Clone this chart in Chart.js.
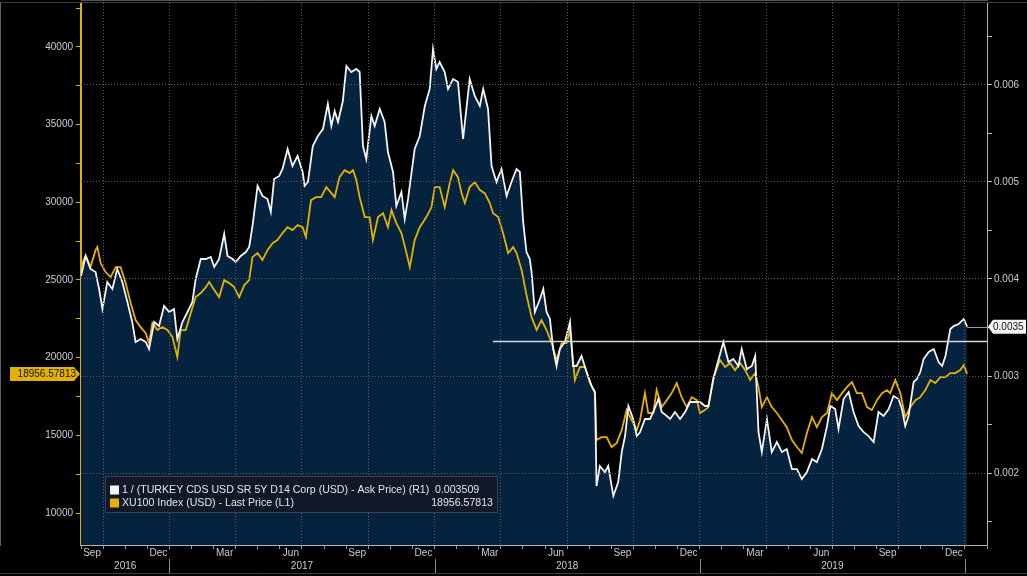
<!DOCTYPE html>
<html>
<head>
<meta charset="utf-8">
<script src="https://cdn.jsdelivr.net/npm/chart.js@4.4.1/dist/chart.umd.min.js"></script>
<style>
  html, body { margin: 0; padding: 0; background: #000; }
  .chart-size { position: relative; width: 1027px; height: 576px; }
</style>
</head>
<body>
<div class="chart-size"><canvas id="chart"></canvas></div>
<script>
// x values are months counted from 1 Sep 2016
const cdsMonths = [
  0.00, 0.21, 0.43, 0.66, 0.82, 0.97, 1.19, 1.42, 1.64, 1.87,
  2.10, 2.32, 2.47, 2.70, 2.93, 3.08, 3.31, 3.53, 3.76, 3.99,
  4.21, 4.36, 4.59, 4.82, 5.04, 5.19, 5.42, 5.65, 5.87, 6.03,
  6.25, 6.48, 6.63, 6.86, 7.00, 7.23, 7.46, 7.61, 7.76, 7.99,
  8.21, 8.44, 8.59, 8.74, 8.97, 9.12, 9.35, 9.57, 9.80, 10.03,
  10.12, 10.27, 10.49, 10.72, 10.95, 11.17, 11.33, 11.48, 11.63, 11.85,
  12.01, 12.23, 12.46, 12.61, 12.76, 12.91, 13.14, 13.29, 13.52, 13.74,
  13.89, 14.12, 14.27, 14.50, 14.65, 14.80, 15.10, 15.33, 15.56, 15.78,
  15.93, 16.08, 16.23, 16.46, 16.61, 16.84, 17.06, 17.29, 17.44, 17.59,
  17.82, 18.05, 18.20, 18.42, 18.58, 18.80, 19.03, 19.26, 19.48, 19.71,
  19.86, 20.01, 20.16, 20.31, 20.39, 20.54, 20.77, 20.92, 21.07, 21.22,
  21.37, 21.52, 21.67, 21.90, 22.13, 22.27, 22.43, 22.65, 22.88, 23.11,
  23.26, 23.33, 23.48, 23.71, 23.86, 24.09, 24.31, 24.47, 24.62, 24.77,
  24.99, 25.15, 25.30, 25.52, 25.75, 25.90, 26.13, 26.28, 26.51, 26.66,
  26.88, 27.11, 27.34, 27.56, 27.79, 28.01, 28.24, 28.39, 28.62, 28.77,
  28.92, 29.07, 29.30, 29.52, 29.75, 29.90, 30.13, 30.36, 30.51, 30.66,
  30.81, 31.04, 31.26, 31.49, 31.72, 31.94, 32.17, 32.40, 32.62, 32.85,
  33.08, 33.30, 33.53, 33.76, 33.91, 34.13, 34.28, 34.51, 34.74, 34.96,
  35.19, 35.41, 35.64, 35.87, 36.09, 36.32, 36.55, 36.77, 37.00, 37.15,
  37.30, 37.45, 37.68, 37.83, 37.98, 38.13, 38.36, 38.59, 38.81, 38.97,
  39.12, 39.34, 39.49, 39.72, 39.95, 40.10
];
const cdsInverse = [
  0.004031, 0.004237, 0.004103, 0.004072, 0.003897, 0.003691, 0.003969, 0.003897, 0.004103, 0.003969,
  0.003763, 0.003557, 0.003351, 0.003381, 0.003351, 0.003278, 0.003557, 0.003515, 0.003722, 0.003660,
  0.003691, 0.003381, 0.003557, 0.003660, 0.003763, 0.004000, 0.004206, 0.004206, 0.004227, 0.004124,
  0.004206, 0.004464, 0.004237, 0.004206, 0.004175, 0.004237, 0.004278, 0.004330, 0.004546, 0.004959,
  0.004856, 0.004825, 0.004691, 0.005031, 0.005062, 0.005134, 0.005340, 0.005165, 0.005268, 0.005103,
  0.004959, 0.005000, 0.005371, 0.005474, 0.005546, 0.005804, 0.005577, 0.005732, 0.005619, 0.005835,
  0.006196, 0.006134, 0.006165, 0.006134, 0.005371, 0.005237, 0.005680, 0.005577, 0.005753, 0.005619,
  0.005309, 0.005103, 0.004753, 0.004897, 0.004619, 0.004825, 0.005340, 0.005474, 0.005784, 0.005959,
  0.006371, 0.006165, 0.006237, 0.006134, 0.005959, 0.006062, 0.006031, 0.005443, 0.005753, 0.006062,
  0.005887, 0.005784, 0.005959, 0.005753, 0.005165, 0.005000, 0.005134, 0.004856, 0.005000, 0.005134,
  0.005103, 0.004588, 0.004278, 0.004206, 0.004072, 0.003660, 0.003794, 0.003897, 0.003660, 0.003588,
  0.003278, 0.003103, 0.003278, 0.003351, 0.003557, 0.003103, 0.003103, 0.003206, 0.003041, 0.002897,
  0.002835, 0.001866, 0.002072, 0.002010, 0.002072, 0.001763, 0.001907, 0.002216, 0.002381, 0.002691,
  0.002557, 0.002381, 0.002423, 0.002557, 0.002557, 0.002629, 0.002763, 0.002629, 0.002588, 0.002557,
  0.002629, 0.002557, 0.002629, 0.002732, 0.002732, 0.002732, 0.002691, 0.002691, 0.002969, 0.003103,
  0.003227, 0.003351, 0.003144, 0.003175, 0.003103, 0.003278, 0.003072, 0.003103, 0.003206, 0.002423,
  0.002216, 0.002557, 0.002216, 0.002320, 0.002216, 0.002247, 0.002041, 0.002041, 0.001938, 0.002010,
  0.002144, 0.002113, 0.002247, 0.002485, 0.002691, 0.002660, 0.002454, 0.002763, 0.002835, 0.002629,
  0.002485, 0.002423, 0.002381, 0.002320, 0.002629, 0.002588, 0.002660, 0.002794, 0.002763, 0.002660,
  0.002485, 0.002588, 0.002938, 0.002969, 0.003041, 0.003175, 0.003247, 0.003278, 0.003144, 0.003103,
  0.003206, 0.003485, 0.003515, 0.003536, 0.003588, 0.003509
];
const xuMonths = [
  0.00, 0.21, 0.43, 0.66, 0.74, 0.89, 1.11, 1.34, 1.57, 1.79,
  2.02, 2.25, 2.47, 2.70, 2.93, 3.08, 3.23, 3.46, 3.68, 3.91,
  4.14, 4.36, 4.51, 4.74, 4.97, 5.19, 5.42, 5.65, 5.80, 6.03,
  6.25, 6.48, 6.71, 6.93, 7.16, 7.39, 7.61, 7.76, 7.99, 8.21,
  8.44, 8.67, 8.89, 9.12, 9.35, 9.57, 9.80, 10.03, 10.18, 10.41,
  10.64, 10.87, 11.10, 11.33, 11.48, 11.70, 11.93, 12.16, 12.31, 12.46,
  12.61, 12.84, 13.06, 13.21, 13.44, 13.67, 13.89, 14.05, 14.27, 14.50,
  14.73, 14.88, 15.10, 15.33, 15.63, 15.86, 16.01, 16.23, 16.46, 16.69,
  16.84, 17.06, 17.22, 17.37, 17.59, 17.82, 18.05, 18.27, 18.50, 18.65,
  18.88, 19.10, 19.33, 19.56, 19.71, 19.94, 20.16, 20.39, 20.62, 20.84,
  21.07, 21.30, 21.52, 21.75, 21.98, 22.13, 22.35, 22.58, 22.81, 23.03,
  23.26, 23.33, 23.56, 23.79, 24.01, 24.24, 24.47, 24.69, 24.92, 25.15,
  25.30, 25.52, 25.67, 25.90, 26.05, 26.28, 26.51, 26.73, 26.96, 27.18,
  27.41, 27.64, 27.87, 28.01, 28.24, 28.39, 28.62, 28.92, 29.15, 29.38,
  29.60, 29.83, 30.06, 30.28, 30.51, 30.66, 30.81, 31.04, 31.26, 31.49,
  31.72, 31.94, 32.17, 32.40, 32.62, 32.85, 33.08, 33.30, 33.53, 33.76,
  33.98, 34.21, 34.44, 34.66, 34.89, 35.11, 35.34, 35.57, 35.79, 36.02,
  36.25, 36.47, 36.62, 36.85, 37.08, 37.30, 37.53, 37.76, 37.98, 38.21,
  38.44, 38.66, 38.89, 39.12, 39.34, 39.57, 39.79, 39.95, 40.10
];
const xuUsd = [
  25830, 26600, 25830, 26920, 27120, 26090, 25510, 25190, 25830, 25830,
  24800, 23510, 22420, 21970, 21580, 20940, 22230, 21780, 21970, 21780,
  21330, 20040, 21780, 21780, 22870, 23900, 24160, 24540, 24870, 24350,
  23900, 24990, 24800, 24540, 23900, 24670, 24990, 26470, 26730, 26280,
  26920, 27370, 27570, 28020, 28400, 28210, 28530, 28400, 27760, 30140,
  30330, 30330, 30980, 30590, 30330, 31620, 32070, 31880, 32070, 31430,
  30330, 29050, 29050, 27570, 29050, 29300, 28400, 29500, 28660, 28020,
  26730, 25830, 27570, 28400, 29050, 29690, 30980, 30980, 29690, 31240,
  32070, 31620, 30590, 29950, 30980, 31300, 30790, 30590, 29950, 29300,
  29050, 28020, 26730, 27120, 26730, 25640, 24030, 22610, 21780, 22420,
  21780, 20940, 19850, 20940, 20940, 21780, 18560, 19400, 19400, 18370,
  17720, 14700, 14890, 14890, 14250, 14500, 15340, 16630, 15980, 15340,
  15980, 17720, 16440, 16440, 17920, 16820, 17270, 17720, 18370, 17460,
  16820, 17460, 17270, 16440, 16630, 16820, 18750, 19850, 19400, 19650,
  19200, 19650, 19200, 18560, 19010, 18110, 16820, 17460, 16820, 16440,
  15980, 15530, 14700, 14250, 13860, 15150, 16180, 15530, 16180, 16440,
  17720, 17270, 17720, 18110, 18430, 17720, 17720, 16820, 16630, 17270,
  17720, 17920, 17720, 18560, 17720, 16180, 16820, 17270, 17460, 17920,
  18560, 18370, 18750, 18750, 19010, 19010, 19200, 19520, 18956.57813
];

const monthLabels = ["Sep", "Dec", "Mar", "Jun", "Sep", "Dec", "Mar", "Jun", "Sep", "Dec", "Mar", "Jun", "Sep", "Dec"];
const monthLabelAt = [0, 3, 6, 9, 12, 15, 18, 21, 24, 27, 30, 33, 36, 39];
const yearLabels = ["2016", "2017", "2018", "2019"];
const yearBreaks = [0, 4, 16, 28, 40];
const cdsLabel = "1 / (TURKEY CDS USD SR 5Y D14 Corp (USD) - Ask Price) (R1)";
const xuLabel = "XU100 Index (USD) - Last Price (L1)";
const levelFrom = 18.64;
const levelValue = 0.003361;

const YELLOW = "#e3b200";
const WHITE = "#f4f4f4";
const FILL = "#05233f";
const TEXT = "#c8ccd4";
const GRID = "#5c5c5c";
const FONT = '"Liberation Sans", Arial, sans-serif';

Chart.defaults.font.family = FONT;
Chart.defaults.font.size = 10;
Chart.defaults.color = TEXT;

const isStep = (v, step) => Math.abs(v / step - Math.round(v / step)) < 1e-6;

// tick marks every step inside the range
function stepTicks(scale, step) {
  const ticks = [];
  for (let k = Math.ceil(scale.min / step); k * step <= scale.max; k++) {
    ticks.push({ value: k * step });
  }
  scale.ticks = ticks;
}

const overlay = {
  id: "overlay",
  afterDraw(chart) {
    const { ctx, chartArea: area, scales: { x, yL, yR } } = chart;
    ctx.save();

    // frame lines
    ctx.strokeStyle = "#3c3c3c";
    ctx.lineWidth = 1;
    ctx.beginPath();
    ctx.moveTo(0, 2.5); ctx.lineTo(chart.width, 2.5);
    ctx.moveTo(0, 573.5); ctx.lineTo(chart.width, 573.5);
    ctx.stroke();

    // solid bottom and right axis lines
    ctx.strokeStyle = "#b4b4b4";
    ctx.beginPath();
    ctx.moveTo(area.left, area.bottom + 0.5); ctx.lineTo(area.right + 0.5, area.bottom + 0.5);
    ctx.moveTo(area.right + 0.5, area.top); ctx.lineTo(area.right + 0.5, area.bottom + 0.5);
    ctx.stroke();

    // month and year labels
    ctx.font = "10px " + FONT;
    ctx.fillStyle = TEXT;
    ctx.textAlign = "center";
    ctx.textBaseline = "middle";
    monthLabels.forEach((t, i) => ctx.fillText(t, x.getPixelForValue(monthLabelAt[i] + 0.5), 553));
    yearLabels.forEach((t, i) => ctx.fillText(t, x.getPixelForValue((yearBreaks[i] + yearBreaks[i + 1]) / 2), 566));
    ctx.strokeStyle = "#8c8c8c";
    ctx.beginPath();
    yearBreaks.slice(1).forEach(m => {
      const px = Math.round(x.getPixelForValue(m)) + 0.5;
      ctx.moveTo(px, 559); ctx.lineTo(px, 573);
    });
    ctx.stroke();

    // level line
    const ly = Math.round(yR.getPixelForValue(levelValue)) + 0.5;
    ctx.strokeStyle = "#d6d6d6";
    ctx.lineWidth = 1.5;
    ctx.beginPath();
    ctx.moveTo(x.getPixelForValue(levelFrom), ly);
    ctx.lineTo(area.right, ly);
    ctx.stroke();

    // last value of R1 + tag
    const lastCds = cdsInverse[cdsInverse.length - 1];
    const ty = yR.getPixelForValue(lastCds);
    ctx.strokeStyle = "#9c9c9c";
    ctx.lineWidth = 1;
    ctx.beginPath();
    ctx.moveTo(x.getPixelForValue(cdsMonths[cdsMonths.length - 1]), Math.round(ty) + 0.5);
    ctx.lineTo(area.right, Math.round(ty) + 0.5);
    ctx.stroke();
    ctx.fillStyle = "#f4f4f4";
    ctx.beginPath();
    ctx.moveTo(area.right + 1, ty);
    ctx.lineTo(area.right + 6, ty - 7);
    ctx.lineTo(1026, ty - 7);
    ctx.lineTo(1026, ty + 7);
    ctx.lineTo(area.right + 6, ty + 7);
    ctx.closePath();
    ctx.fill();
    ctx.fillStyle = "#111";
    ctx.textAlign = "left";
    ctx.fillText(lastCds.toFixed(4), area.right + 6, ty + 0.5);

    // last value of L1 tag
    const lastXu = xuUsd[xuUsd.length - 1];
    const sy = yL.getPixelForValue(lastXu);
    ctx.fillStyle = YELLOW;
    ctx.beginPath();
    ctx.moveTo(10, sy - 7);
    ctx.lineTo(area.left - 7, sy - 7);
    ctx.lineTo(area.left - 1, sy);
    ctx.lineTo(area.left - 7, sy + 7);
    ctx.lineTo(10, sy + 7);
    ctx.closePath();
    ctx.fill();
    ctx.fillStyle = "#111";
    ctx.textAlign = "right";
    ctx.fillText(String(lastXu), area.left - 5, sy + 0.5);

    // legend box
    const lx = 105, ltop = 476, lw = 393, lh = 37;
    ctx.fillStyle = "#121827";
    ctx.fillRect(lx, ltop, lw, lh);
    ctx.strokeStyle = "#3b4152";
    ctx.strokeRect(lx + 0.5, ltop + 0.5, lw - 1, lh - 1);
    ctx.font = "10.6px " + FONT;
    const rows = [
      { label: cdsLabel, color: WHITE, value: lastCds.toFixed(6), vx: 435, align: "left" },
      { label: xuLabel, color: YELLOW, value: String(lastXu), vx: 493, align: "right" }
    ];
    rows.forEach((r, i) => {
      const ry = 490 + i * 13;
      ctx.fillStyle = r.color;
      ctx.fillRect(110, ry - 4.5, 9, 9);
      ctx.fillStyle = "#e2e4ea";
      ctx.textAlign = "left";
      ctx.fillText(r.label, 122, ry);
      ctx.textAlign = r.align;
      ctx.fillText(r.value, r.vx, ry);
    });

    ctx.restore();
  }
};

new Chart(document.getElementById("chart"), {
  type: "line",
  data: {
    datasets: [
      {
        label: cdsLabel,
        data: cdsMonths.map((m, i) => ({ x: m, y: cdsInverse[i] })),
        yAxisID: "yR",
        borderColor: WHITE,
        borderWidth: 1.8,
        backgroundColor: FILL,
        fill: "start",
        pointRadius: 0,
        tension: 0
      },
      {
        label: xuLabel,
        data: xuMonths.map((m, i) => ({ x: m, y: xuUsd[i] })),
        yAxisID: "yL",
        borderColor: YELLOW,
        borderWidth: 1.8,
        fill: false,
        pointRadius: 0,
        tension: 0
      }
    ]
  },
  options: {
    responsive: true,
    maintainAspectRatio: false,
    animation: false,
    events: [],
    layout: { padding: { top: 3, left: 0, right: 0, bottom: 0 } },
    plugins: {
      legend: { display: false },
      tooltip: { enabled: false },
      filler: { drawTime: "beforeDatasetsDraw" }
    },
    scales: {
      x: {
        type: "linear",
        position: "bottom",
        min: 0,
        max: 41,
        afterBuildTicks: s => stepTicks(s, 1),
        ticks: { display: false },
        grid: {
          z: 1,
          color: c => (c.tick && c.tick.value % 3 === 1 ? GRID : "rgba(0,0,0,0)"),
          tickColor: "#9a9a9a",
          tickLength: 4
        },
        border: { color: "#a8a8a8", width: 1, dash: [1, 2] },
        afterFit: s => { s.height = 31; s.paddingLeft = 0; s.paddingRight = 0; }
      },
      yL: {
        type: "linear",
        position: "left",
        min: 7947,
        max: 42825,
        afterBuildTicks: s => stepTicks(s, 2500),
        ticks: {
          padding: 3,
          color: TEXT,
          autoSkip: false,
          callback: v => (isStep(v, 5000) ? String(Math.round(v)) : "")
        },
        grid: { drawOnChartArea: false, tickColor: YELLOW, tickLength: 5 },
        border: { color: YELLOW, width: 2 },
        afterFit: s => { s.width = 81; s.paddingTop = 0; s.paddingBottom = 0; }
      },
      yR: {
        type: "linear",
        position: "right",
        min: 0.001258,
        max: 0.006845,
        afterBuildTicks: s => stepTicks(s, 0.0005),
        ticks: {
          padding: 2,
          color: TEXT,
          autoSkip: false,
          callback: v => (isStep(v, 0.001) ? (Math.round(v * 1000) / 1000).toFixed(3) : "")
        },
        grid: {
          z: 1,
          color: c => (c.tick && isStep(c.tick.value, 0.001) ? GRID : "rgba(0,0,0,0)"),
          tickColor: "#bdbdbd",
          tickLength: 5
        },
        border: { color: "#c4c4c4", width: 1, dash: [1, 2] },
        afterFit: s => { s.width = 40; s.paddingTop = 0; s.paddingBottom = 0; }
      }
    }
  },
  plugins: [overlay]
});
</script>
</body>
</html>
